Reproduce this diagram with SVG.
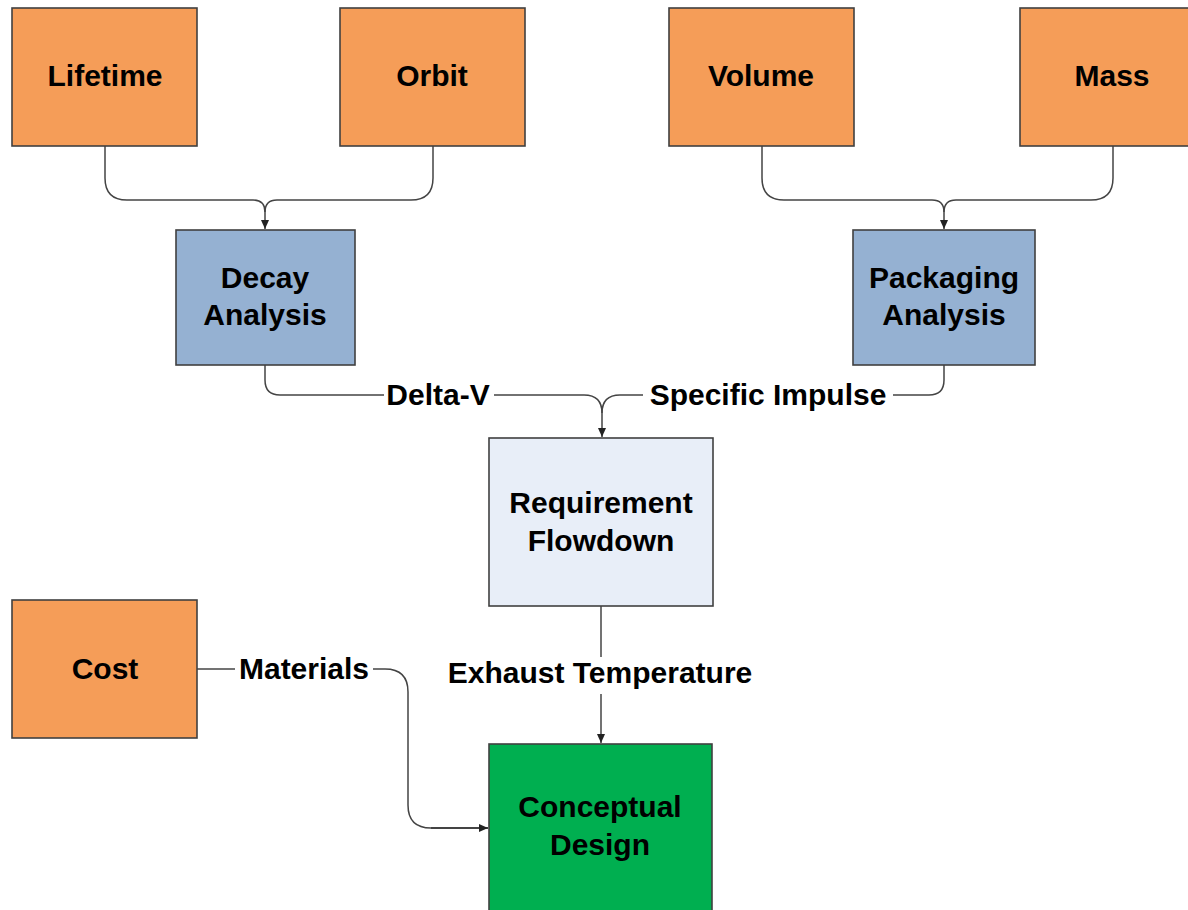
<svg xmlns="http://www.w3.org/2000/svg" width="1188" height="910" viewBox="0 0 1188 910">
<defs>
<marker id="arr" markerWidth="10" markerHeight="10" refX="9" refY="5" orient="auto" markerUnits="userSpaceOnUse">
<path d="M0,1 L9,5 L0,9 Z" fill="#222"/>
</marker>
<style>
.box{stroke:#404040;stroke-width:1.6}
.or{fill:#F59D58}
.bl{fill:#95B1D2}
.lt{fill:#E8EEF8}
.gr{fill:#00AF50}
.t{font-family:"Liberation Sans",Arial,sans-serif;font-weight:bold;font-size:30px;fill:#000;text-anchor:middle}
.c{fill:none;stroke:#444;stroke-width:1.5}
</style>
</defs>
<rect width="1188" height="910" fill="#fff"/>
<g id="connectors">
<path class="c" d="M105,146 V178 Q105,200 127,200 H253 Q265,200 265,212 V229" marker-end="url(#arr)"/>
<path class="c" d="M433,146 V178 Q433,200 411,200 H277 Q265,200 265,212"/>
<path class="c" d="M762,146 V178 Q762,200 784,200 H932 Q944,200 944,212 V229" marker-end="url(#arr)"/>
<path class="c" d="M1113,146 V178 Q1113,200 1091,200 H956 Q944,200 944,212"/>
<path class="c" d="M265,365 V380 Q265,395 280,395 H384"/>
<path class="c" d="M494,395 H584 Q602,395 602,413 V437" marker-end="url(#arr)"/>
<path class="c" d="M944,365 V380 Q944,395 929,395 H893"/>
<path class="c" d="M643,395 H620 Q602,395 602,413"/>
<path class="c" d="M601,606 V657"/>
<path class="c" d="M601,694 V743" marker-end="url(#arr)"/>
<path class="c" d="M197,669 H235"/>
<path class="c" d="M373,669 H385 Q408,669 408,692 V805 Q408,828 431,828"/>
<path class="c" d="M431,828 H488" style="stroke-width:2" marker-end="url(#arr)"/>
<text class="t" x="438" y="405">Delta-V</text>
<text class="t" x="768" y="405">Specific Impulse</text>
<text class="t" x="600" y="683">Exhaust Temperature</text>
<text class="t" x="304" y="679">Materials</text>
</g>
<g id="lifetime"><rect class="box or" x="12" y="8" width="185" height="138"/><text class="t" x="105" y="86">Lifetime</text></g>
<g id="orbit"><rect class="box or" x="340" y="8" width="185" height="138"/><text class="t" x="432" y="86">Orbit</text></g>
<g id="volume"><rect class="box or" x="669" y="8" width="185" height="138"/><text class="t" x="761" y="86">Volume</text></g>
<g id="mass"><rect class="box or" x="1020" y="8" width="190" height="138"/><text class="t" x="1112" y="86">Mass</text></g>
<g id="decay"><rect class="box bl" x="176" y="230" width="179" height="135"/><text class="t" x="265" y="288">Decay</text><text class="t" x="265" y="325">Analysis</text></g>
<g id="packaging"><rect class="box bl" x="853" y="230" width="182" height="135"/><text class="t" x="944" y="288">Packaging</text><text class="t" x="944" y="325">Analysis</text></g>
<g id="requirement"><rect class="box lt" x="489" y="438" width="224" height="168"/><text class="t" x="601" y="513">Requirement</text><text class="t" x="601" y="551">Flowdown</text></g>
<g id="cost"><rect class="box or" x="12" y="600" width="185" height="138"/><text class="t" x="105" y="679">Cost</text></g>
<g id="conceptual"><rect class="box gr" x="489" y="744" width="223" height="180"/><text class="t" x="600" y="817">Conceptual</text><text class="t" x="600" y="855">Design</text></g>
</svg>
